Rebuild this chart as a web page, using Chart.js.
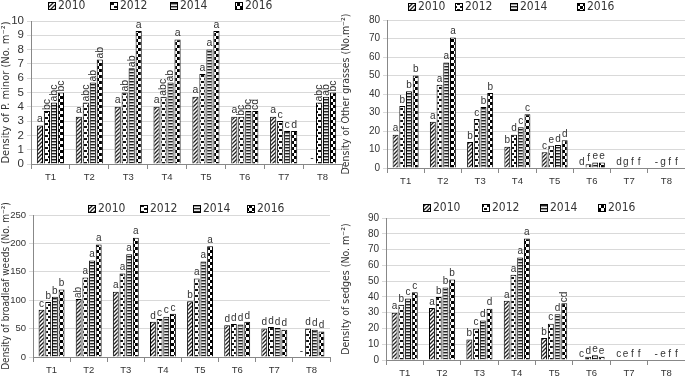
<!DOCTYPE html>
<html>
<head>
<meta charset="utf-8">
<script src="https://cdn.jsdelivr.net/npm/chart.js@4.4.1/dist/chart.umd.min.js"></script>
<style>
  body { margin:0; background:#fff; }
  #wrap { position:relative; width:685px; height:379px; }
  .pane { position:absolute; }
</style>
</head>
<body>
<div id="wrap">
  <div class="pane" style="left:0;top:0;width:345px;height:190px"><canvas id="c1"></canvas></div>
  <div class="pane" style="left:340px;top:0;width:345px;height:190px"><canvas id="c2"></canvas></div>
  <div class="pane" style="left:0;top:190px;width:345px;height:189px"><canvas id="c3"></canvas></div>
  <div class="pane" style="left:340px;top:190px;width:345px;height:189px"><canvas id="c4"></canvas></div>
</div>
<script>
const treatments = ["T1","T2","T3","T4","T5","T6","T7","T8"];
const years = ["2010","2012","2014","2016"];

// P. minor
const pm2010 = [2.7, 3.3, 4.0, 4.0, 4.7, 3.3, 3.3, null];
const pm2012 = [3.7, 4.3, 5.0, 4.7, 6.3, 3.3, 3.0, 4.3];
const pm2014 = [4.3, 5.7, 6.7, 5.7, 8.0, 3.7, 2.3, 4.7];
const pm2016 = [5.0, 7.3, 9.3, 8.7, 9.3, 3.7, 2.3, 5.0];
const pmLet2010 = ["a","a","a","a","a","a","a","-"];
const pmLet2012 = ["bc","abc","ab","abc","a","bc","c","abc"];
const pmLet2014 = ["abc","ab","ab","ab","a","bc","c","ab"];
const pmLet2016 = ["bc","ab","a","a","a","cd","d","bc"];

// Other grasses
const og2010 = [18, 25, 14, 11.5, 8.5, 0, 0, null];
const og2012 = [33.5, 45, 26.5, 18, 12, 2, 0, 0];
const og2014 = [41.5, 57, 33, 22, 12.5, 3, 0, 0];
const og2016 = [50, 70.5, 40.5, 29, 15, 3, 0, 0];
const ogLet2010 = ["a","a","b","b","c","d","d","-"];
const ogLet2012 = ["b","a","c","d","e","f","g","g"];
const ogLet2014 = ["b","a","b","c","d","e","f","f"];
const ogLet2016 = ["b","a","b","c","d","e","f","f"];

// Broadleaf weeds
const bw2010 = [83, 102, 115, 62, 98, 56, 50, null];
const bw2012 = [97, 140, 147, 67, 138, 58, 53, 50];
const bw2014 = [106, 170, 181, 71, 168, 57, 51, 48];
const bw2016 = [119, 198, 210, 76, 195, 62, 48, 45];
const bwLet2010 = ["c","ab","a","d","b","d","d","-"];
const bwLet2012 = ["b","a","a","c","a","d","d","d"];
const bwLet2014 = ["b","a","a","c","a","d","d","d"];
const bwLet2016 = ["b","a","a","c","a","d","d","d"];

// Sedges
const sd2010 = [30, 33, 13, 37.5, 14, 0, 0, null];
const sd2012 = [35, 40, 20, 54, 23, 2, 0, 0];
const sd2014 = [39, 46, 25, 65, 29, 3, 0, 0];
const sd2016 = [43, 51, 32.5, 77, 36, 2, 0, 0];
const sdLet2010 = ["a","a","b","a","b","c","c","-"];
const sdLet2012 = ["b","b","c","a","c","d","e","e"];
const sdLet2014 = ["c","b","d","a","d","e","f","f"];
const sdLet2016 = ["c","b","d","a","cd","e","f","f"];

const FONT = "'Liberation Sans', Arial, sans-serif";
const NARROW = "'Liberation Sans Narrow', 'DejaVu Sans Condensed', sans-serif";
const TXT = "#333";

function tile(w, h, draw) {
  const c = document.createElement("canvas");
  c.width = w; c.height = h;
  const g = c.getContext("2d");
  draw(g);
  return g.createPattern(c, "repeat");
}
const patterns = [
  tile(4, 4, g => {            // diagonal hatch
    g.fillStyle = "#fff"; g.fillRect(0,0,4,4);
    g.strokeStyle = "#222"; g.lineWidth = 1.3;
    g.beginPath(); g.moveTo(0,4); g.lineTo(4,0); g.moveTo(-1,1); g.lineTo(1,-1); g.moveTo(3,5); g.lineTo(5,3); g.stroke();
  }),
  tile(6, 6, g => {            // dots
    g.fillStyle = "#fff"; g.fillRect(0,0,6,6);
    g.fillStyle = "#111";
    g.fillRect(0,0,3,2); g.fillRect(3,3,3,2);
  }),
  tile(3, 3, g => {            // horizontal stripes
    g.fillStyle = "#999"; g.fillRect(0,0,3,3);
    g.fillStyle = "#222"; g.fillRect(0,0,3,1);
    g.fillStyle = "#eee"; g.fillRect(0,2,3,1);
  }),
  tile(6, 6, g => {            // checker
    g.fillStyle = "#fff"; g.fillRect(0,0,6,6);
    g.fillStyle = "#000";
    g.fillRect(0,0,3,3); g.fillRect(3,3,3,3);
  })
];

// significance letters above each bar
const letterPlugin = {
  id: "letters",
  afterDatasetsDraw(chart) {
    const ctx = chart.ctx;
    const opts = chart.options.plugins.letters;
    const y0 = chart.scales.y.getPixelForValue(0);
    ctx.save();
    ctx.fillStyle = TXT;
    ctx.font = opts.size + "px " + FONT;
    chart.data.datasets.forEach((ds, di) => {
      const meta = chart.getDatasetMeta(di);
      meta.data.forEach((bar, i) => {
        const t = ds.letters[i];
        if (!t) return;
        const v = ds.data[i];
        const top = (v === null) ? y0 : bar.y;
        const x = bar.x;
        if (t.length > 1 && opts.rotate) {
          ctx.save();
          ctx.translate(x, top - 1);
          ctx.rotate(-Math.PI / 2);
          ctx.textAlign = "left"; ctx.textBaseline = "middle";
          ctx.fillText(t, 0, 0);
          ctx.restore();
        } else {
          ctx.textAlign = "center"; ctx.textBaseline = "bottom";
          ctx.fillText(t, x, top - 1);
        }
      });
    });
    ctx.restore();
  }
};

// legend with pattern boxes at set positions
const legendPlugin = {
  id: "boxLegend",
  afterDraw(chart) {
    const o = chart.options.plugins.boxLegend;
    const ctx = chart.ctx;
    ctx.save();
    ctx.font = "12px " + NARROW;
    ctx.textBaseline = "middle"; ctx.textAlign = "left";
    chart.data.datasets.forEach((ds, i) => {
      const x = o.xs[i];
      ctx.fillStyle = ds.backgroundColor;
      ctx.fillRect(x, o.y - 4, 8, 8);
      ctx.strokeStyle = "#000"; ctx.lineWidth = 1;
      ctx.strokeRect(x + 0.5, o.y - 3.5, 7, 7);
      ctx.fillStyle = TXT;
      ctx.fillText(ds.label, x + 10, o.y);
    });
    ctx.restore();
  }
};

function makeChart(id, series, letters, cfg) {
  new Chart(document.getElementById(id), {
    type: "bar",
    data: {
      labels: treatments,
      datasets: series.map((s, i) => ({
        label: years[i],
        data: s,
        letters: letters[i],
        backgroundColor: patterns[i],
        borderColor: "#000",
        borderWidth: 1,
        barPercentage: 0.88,
        categoryPercentage: 0.72
      }))
    },
    options: {
      responsive: true,
      maintainAspectRatio: false,
      animation: false,
      layout: { padding: cfg.padding },
      plugins: {
        legend: { display: false },
        tooltip: { enabled: false },
        letters: { rotate: cfg.rotate, size: cfg.letterSize },
        boxLegend: { xs: cfg.legendX, y: cfg.legendY }
      },
      scales: {
        x: {
          grid: { drawOnChartArea: false, offset: true, tickLength: 5, color: "#888" },
          border: { color: "#888" },
          ticks: { color: TXT, font: { family: FONT, size: 9.5 }, padding: 3 },
          afterFit: s => { s.height = cfg.xh; }
        },
        y: {
          min: 0, max: cfg.max,
          ticks: { stepSize: cfg.step, autoSkip: false, color: TXT, font: { family: FONT, size: cfg.tickSize }, padding: 3 },
          grid: { color: "#d9d9d9", tickLength: 4 },
          border: { color: "#888" },
          title: { display: true, text: cfg.title, color: TXT, font: { family: NARROW, size: cfg.titleSize }, padding: { top: 0, bottom: 0 } },
          afterFit: s => { s.width = cfg.yw; }
        }
      }
    },
    plugins: [letterPlugin, legendPlugin]
  });
}

makeChart("c1", [pm2010, pm2012, pm2014, pm2016], [pmLet2010, pmLet2012, pmLet2014, pmLet2016], {
  max: 10, step: 1, title: "Density of P. minor (No. m\u207B\u00B2)", rotate: true,
  tickSize: 11.5, titleSize: 11, letterSize: 10.5,
  yw: 31, xh: 26, padding: { top: 21, right: 3, left: 0, bottom: 0 },
  legendX: [48, 110, 170, 235], legendY: 6
});
makeChart("c2", [og2010, og2012, og2014, og2016], [ogLet2010, ogLet2012, ogLet2014, ogLet2016], {
  max: 80, step: 10, title: "Density of Other grasses (No.m\u207B\u00B2)", rotate: false,
  tickSize: 10, titleSize: 10.5, letterSize: 10,
  yw: 47, xh: 22, padding: { top: 20, right: 0, left: 0, bottom: 0 },
  legendX: [68, 115, 170, 237], legendY: 7
});
makeChart("c3", [bw2010, bw2012, bw2014, bw2016], [bwLet2010, bwLet2012, bwLet2014, bwLet2016], {
  max: 250, step: 50, title: "Density of broadleaf weeds (No. m\u207B\u00B2)", rotate: true,
  tickSize: 9.5, titleSize: 10, letterSize: 10,
  yw: 33, xh: 22, padding: { top: 25, right: 15, left: 0, bottom: 0 },
  legendX: [88, 140, 193, 247], legendY: 19
});
makeChart("c4", [sd2010, sd2012, sd2014, sd2016], [sdLet2010, sdLet2012, sdLet2014, sdLet2016], {
  max: 90, step: 10, title: "Density of sedges (No. m\u207B\u00B2)", rotate: true,
  tickSize: 10, titleSize: 10.5, letterSize: 10,
  yw: 46, xh: 19, padding: { top: 28, right: 0, left: 0, bottom: 0 },
  legendX: [83, 142, 200, 258], legendY: 18
});
</script>
</body>
</html>
